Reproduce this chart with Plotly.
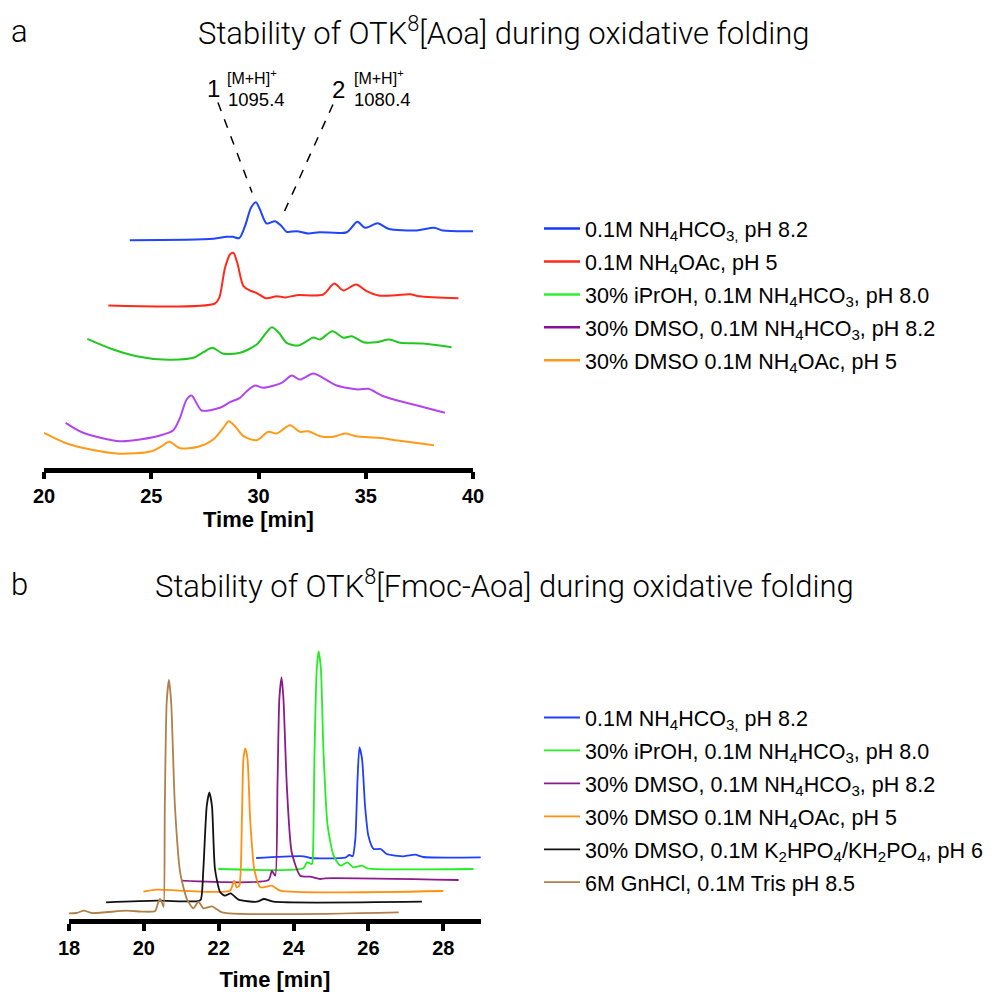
import plotly.graph_objects as go

W, H = 1007, 992
OFF = 8  # page offset of the figure inside the browser window

# ---------------- Panel a data (time [min], stacked signal) ----------------
A_TICKS = [20, 25, 30, 35, 40]

A_BLUE_T = [24.0, 27.9, 28.5, 28.8, 29.1, 29.37, 29.65, 29.88, 30.07, 30.38, 30.77, 31.08, 31.31,
            31.78, 32.32, 32.85, 34.11, 34.61, 34.97, 35.56, 36.05, 37.37, 38.18, 38.6, 40.0]
A_BLUE_Y = [227.3, 228.7, 230.7, 230.7, 229.3, 241.3, 259.7, 265.3, 258, 244, 246.3, 241.3, 235.7,
            236.3, 234, 235.3, 235.3, 245.7, 239.7, 244.3, 238.7, 237, 239.7, 237, 236.3]

A_RED_T = [23.0, 27.97, 28.17, 28.44, 28.67, 28.83, 29.01, 29.3, 29.6, 29.9, 30.35, 30.85, 31.24,
           31.78, 33.02, 33.53, 33.96, 34.55, 35.04, 35.6, 36.4, 37.06, 37.5, 39.32]
A_RED_Y = [162, 164, 169.7, 199.7, 213, 214.7, 204.7, 181.3, 177, 174.7, 169.3, 171.3, 170,
           172.3, 173, 184, 177, 183, 176.3, 172, 172.3, 173.3, 171.3, 169.3]

A_GREEN_T = [22.02, 23.23, 24.32, 25.56, 26.96, 27.43, 27.85, 28.33, 29.14, 29.92, 30.3, 30.62, 30.95,
             31.31, 31.86, 32.25, 32.55, 32.86, 33.45, 33.96, 34.35, 34.89, 35.5, 36.1, 36.6, 37.67, 39.0]
A_GREEN_Y = [128.7, 118, 111.3, 108, 109.7, 115.3, 119.7, 114, 114.7, 123, 133, 140.3, 134.7,
             124.7, 122, 126.3, 130, 128, 136.3, 129.7, 131.3, 125.3, 125.3, 128, 124.7, 124, 120.3]

A_PURPLE_T = [21.01, 21.83, 23.54, 24.48, 25.56, 26.03, 26.34, 26.65, 26.88, 27.12, 27.35, 28.2, 28.67,
              29.14, 29.45, 29.84, 30.22, 31.08, 31.55, 31.93, 32.55, 33.0, 33.65, 34.66, 35.12, 35.82,
              37.22, 38.69]
A_PURPLE_Y = [44.7, 34.7, 26.3, 28, 33, 37.3, 49.7, 68, 72, 64, 57, 59.7, 65.3,
              69.7, 76.3, 82, 79.7, 84.7, 92, 88, 94, 89.7, 82, 78, 78.7, 71.3,
              63, 54.7]

A_ORANGE_T = [20.0, 21.21, 23.39, 25.02, 25.49, 25.84, 26.34, 27.19, 27.89, 28.36, 28.62, 28.9, 29.3,
              29.92, 30.46, 30.85, 31.47, 31.93, 32.32, 32.87, 33.5, 34.03, 34.55, 35.6, 36.5, 38.18]
A_ORANGE_Y = [34.7, 23, 14, 16.3, 21.3, 25.7, 19.3, 20.7, 28, 39.7, 46.3, 41.3, 31.3,
              27.3, 35.7, 34, 42.3, 35.7, 36.3, 31.3, 30.7, 34, 31.3, 29.7, 27, 22.3]

A_NAMES = [
    "0.1M NH<sub>4</sub>HCO<sub>3,</sub> pH 8.2",
    "0.1M NH<sub>4</sub>OAc, pH 5",
    "30% iPrOH, 0.1M NH<sub>4</sub>HCO<sub>3</sub>, pH 8.0",
    "30% DMSO, 0.1M NH<sub>4</sub>HCO<sub>3</sub>, pH 8.2",
    "30% DMSO 0.1M NH<sub>4</sub>OAc, pH 5",
]
A_LINE_COLORS = ["#1f45ff", "#ff2a1a", "#22c822", "#b245ee", "#ff9a1a"]
A_LEGEND_COLORS = ["#1438ff", "#ff2a1a", "#2ef02e", "#8a109a", "#ff9a1a"]

# ---------------- Panel b data ----------------
B_TICKS = [18, 20, 22, 24, 26, 28]

B_BLUE_T = [23.0, 24.27, 24.45, 25.38, 25.49, 25.58, 25.65, 25.71, 25.76, 25.83, 25.91, 26.0, 26.14,
            26.33, 26.49, 26.94, 27.25, 27.47, 29.03]
B_BLUE_Y = [61, 62.7, 61, 61.3, 64, 62.7, 80, 140, 171.7, 160, 113, 83, 70,
            70, 65, 62.7, 64.3, 62, 61.7]

B_GREEN_T = [21.99, 24.26, 24.36, 24.49, 24.52, 24.56, 24.62, 24.67, 24.73, 24.8, 24.91, 25.07, 25.25,
             25.44, 25.6, 25.83, 25.97, 28.81]
B_GREEN_Y = [50, 50.7, 56.7, 55, 66.7, 166.7, 250, 267.7, 250, 166.7, 93.3, 63.3, 53.3,
             56.7, 51.7, 53.3, 50.7, 50]

B_PURPLE_T = [20.99, 23.33, 23.42, 23.51, 23.57, 23.62, 23.68, 23.73, 23.82, 23.95, 24.18, 24.44, 24.71,
              24.85, 28.41]
B_PURPLE_Y = [38.3, 39, 48.3, 43.3, 133, 220, 241.7, 220, 133, 66.7, 43.3, 42.3, 40,
              40.7, 39]

B_ORANGE_T = [19.99, 20.34, 22.3, 22.41, 22.48, 22.55, 22.62, 22.66, 22.71, 22.77, 22.84, 22.95, 23.11,
              23.42, 23.64, 28.0]
B_ORANGE_Y = [27.3, 29.3, 28.3, 38.3, 31.7, 33.3, 100, 160, 170.7, 160, 100, 50, 31.7,
              33.3, 28.3, 28]

B_BLACK_T = [18.99, 20.34, 21.41, 21.52, 21.59, 21.68, 21.75, 21.82, 21.9, 22.04, 22.17, 22.32, 22.53,
             23.02, 23.21, 23.46, 27.43]
B_BLACK_Y = [16.7, 18.3, 17.7, 19.3, 50, 113, 126.7, 113, 50, 26.7, 23.3, 25.7, 19.3,
             17.3, 20, 17.3, 17.3]

B_BROWN_T = [18.0, 18.2, 18.4, 18.61, 19.54, 19.99, 20.3, 20.37, 20.43, 20.5, 20.53, 20.56, 20.61, 20.67,
             20.73, 20.83, 20.97, 21.15, 21.32, 21.46, 21.59, 21.82, 22.09, 26.81]
B_BROWN_Y = [5.7, 6, 8.3, 6, 8.3, 7.3, 8, 15, 20, 15, 12, 113, 216.7, 239,
             216.7, 113, 46.7, 20, 10.7, 17.3, 10.7, 12.7, 6.7, 6.7]

B_NAMES = [
    "0.1M NH<sub>4</sub>HCO<sub>3,</sub> pH 8.2",
    "30% iPrOH, 0.1M NH<sub>4</sub>HCO<sub>3</sub>, pH 8.0",
    "30% DMSO, 0.1M NH<sub>4</sub>HCO<sub>3</sub>, pH 8.2",
    "30% DMSO 0.1M NH<sub>4</sub>OAc, pH 5",
    "30% DMSO, 0.1M K<sub>2</sub>HPO<sub>4</sub>/KH<sub>2</sub>PO<sub>4</sub>, pH 6",
    "6M GnHCl, 0.1M Tris pH 8.5",
]
B_COLORS = ["#1f3fff", "#22ee22", "#8b1a8b", "#ff9010", "#111111", "#b0804a"]

A_SERIES = [(A_BLUE_T, A_BLUE_Y), (A_RED_T, A_RED_Y), (A_GREEN_T, A_GREEN_Y),
            (A_PURPLE_T, A_PURPLE_Y), (A_ORANGE_T, A_ORANGE_Y)]
B_SERIES = [(B_BLUE_T, B_BLUE_Y), (B_GREEN_T, B_GREEN_Y), (B_PURPLE_T, B_PURPLE_Y),
            (B_ORANGE_T, B_ORANGE_Y), (B_BLACK_T, B_BLACK_Y), (B_BROWN_T, B_BROWN_Y)]


def px(x):
    return (x - OFF) / W


def py(y):
    return 1 - (y - OFF) / H


fig = go.Figure()

for i, ((t, y), name) in enumerate(zip(A_SERIES, A_NAMES)):
    g = "a%d" % i
    fig.add_trace(go.Scatter(x=t, y=y, mode="lines", xaxis="x", yaxis="y",
                             line=dict(color=A_LINE_COLORS[i], width=2, shape="spline", smoothing=0.8),
                             showlegend=False, legendgroup=g, name=name, hoverinfo="skip"))
    fig.add_trace(go.Scatter(x=[None], y=[None], mode="lines", xaxis="x", yaxis="y",
                             line=dict(color=A_LEGEND_COLORS[i], width=2.5),
                             showlegend=True, legend="legend", legendgroup=g, name=name))

for i, ((t, y), name) in enumerate(zip(B_SERIES, B_NAMES)):
    g = "b%d" % i
    fig.add_trace(go.Scatter(x=t, y=y, mode="lines", xaxis="x2", yaxis="y2",
                             line=dict(color=B_COLORS[i], width=1.8, shape="spline", smoothing=0.6),
                             showlegend=True, legend="legend2", legendgroup=g, name=name))


def axis_style(standoff):
    return dict(showline=True, linewidth=4.5, linecolor="black", ticks="outside", ticklen=7,
                tickwidth=4, tickcolor="black", showgrid=False, zeroline=False, automargin=True,
                tickfont=dict(family="Liberation Sans, Arial", size=20, color="black", weight="bold"),
                title=dict(text="<b>Time [min]</b>",
                           font=dict(family="Liberation Sans, Arial", size=22, color="black"),
                           standoff=standoff))


legend_common = dict(xanchor="left", yanchor="top", tracegroupgap=2, itemwidth=36,
                     font=dict(family="Liberation Sans, Arial", size=21.5, color="black"),
                     bgcolor="rgba(0,0,0,0)")

fig.update_layout(
    width=W, height=H,
    margin=dict(l=0, r=0, t=0, b=0, autoexpand=False),
    paper_bgcolor="white", plot_bgcolor="white",
    font=dict(family="Liberation Sans, Arial", color="black"),
    xaxis=dict(domain=[px(44), px(473)], range=[20, 40], tickvals=A_TICKS, anchor="y", **axis_style(0)),
    yaxis=dict(domain=[py(467.5), py(100)], range=[0, 367.5], visible=False, anchor="x"),
    xaxis2=dict(domain=[px(69), px(480.7)], range=[18, 29], tickvals=B_TICKS, anchor="y2",
                **axis_style(15)),
    yaxis2=dict(domain=[py(919), py(639)], range=[0, 280], visible=False, anchor="x2"),
    legend=dict(x=px(539), y=py(208), **legend_common),
    legend2=dict(x=px(539), y=py(697), **legend_common),
    showlegend=True,
)

title_font = dict(family="Roboto, Liberation Sans, Arial", size=31, color="black", weight=300)
annotations = [
    dict(text="a", x=px(9), y=py(31), xanchor="left", yanchor="middle", font=title_font),
    dict(text="Stability of OTK<sup>8</sup>[Aoa] during oxidative folding", x=px(504), y=py(31),
         xanchor="center", yanchor="middle", font=title_font),
    dict(text="b", x=px(9), y=py(584), xanchor="left", yanchor="middle", font=title_font),
    dict(text="Stability of OTK<sup>8</sup>[Fmoc-Aoa] during oxidative folding", x=px(504), y=py(584),
         xanchor="center", yanchor="middle", font=title_font),
    dict(text="1", x=px(213), y=py(88), xanchor="center", yanchor="middle",
         font=dict(size=24, color="black")),
    dict(text="[M+H]<sup>+</sup>", x=px(225), y=py(77), xanchor="left", yanchor="middle",
         font=dict(size=16, color="black")),
    dict(text="1095.4", x=px(226), y=py(99), xanchor="left", yanchor="middle",
         font=dict(size=18.5, color="black")),
    dict(text="2", x=px(338), y=py(89), xanchor="center", yanchor="middle",
         font=dict(size=24, color="black")),
    dict(text="[M+H]<sup>+</sup>", x=px(352), y=py(77), xanchor="left", yanchor="middle",
         font=dict(size=16, color="black")),
    dict(text="1080.4", x=px(352), y=py(99), xanchor="left", yanchor="middle",
         font=dict(size=18.5, color="black")),
]
for a in annotations:
    a.update(xref="paper", yref="paper", showarrow=False)
fig.update_layout(annotations=annotations)

# dashed pointers from the peak labels to the peaks
fig.add_shape(type="line", xref="x", yref="y", x0=28.11, y0=365, x1=29.70, y1=275,
              line=dict(color="black", width=1.5, dash="dash"))
fig.add_shape(type="line", xref="x", yref="y", x0=33.47, y0=363, x1=31.10, y1=251,
              line=dict(color="black", width=1.5, dash="dash"))

fig.write_html("out.html")
